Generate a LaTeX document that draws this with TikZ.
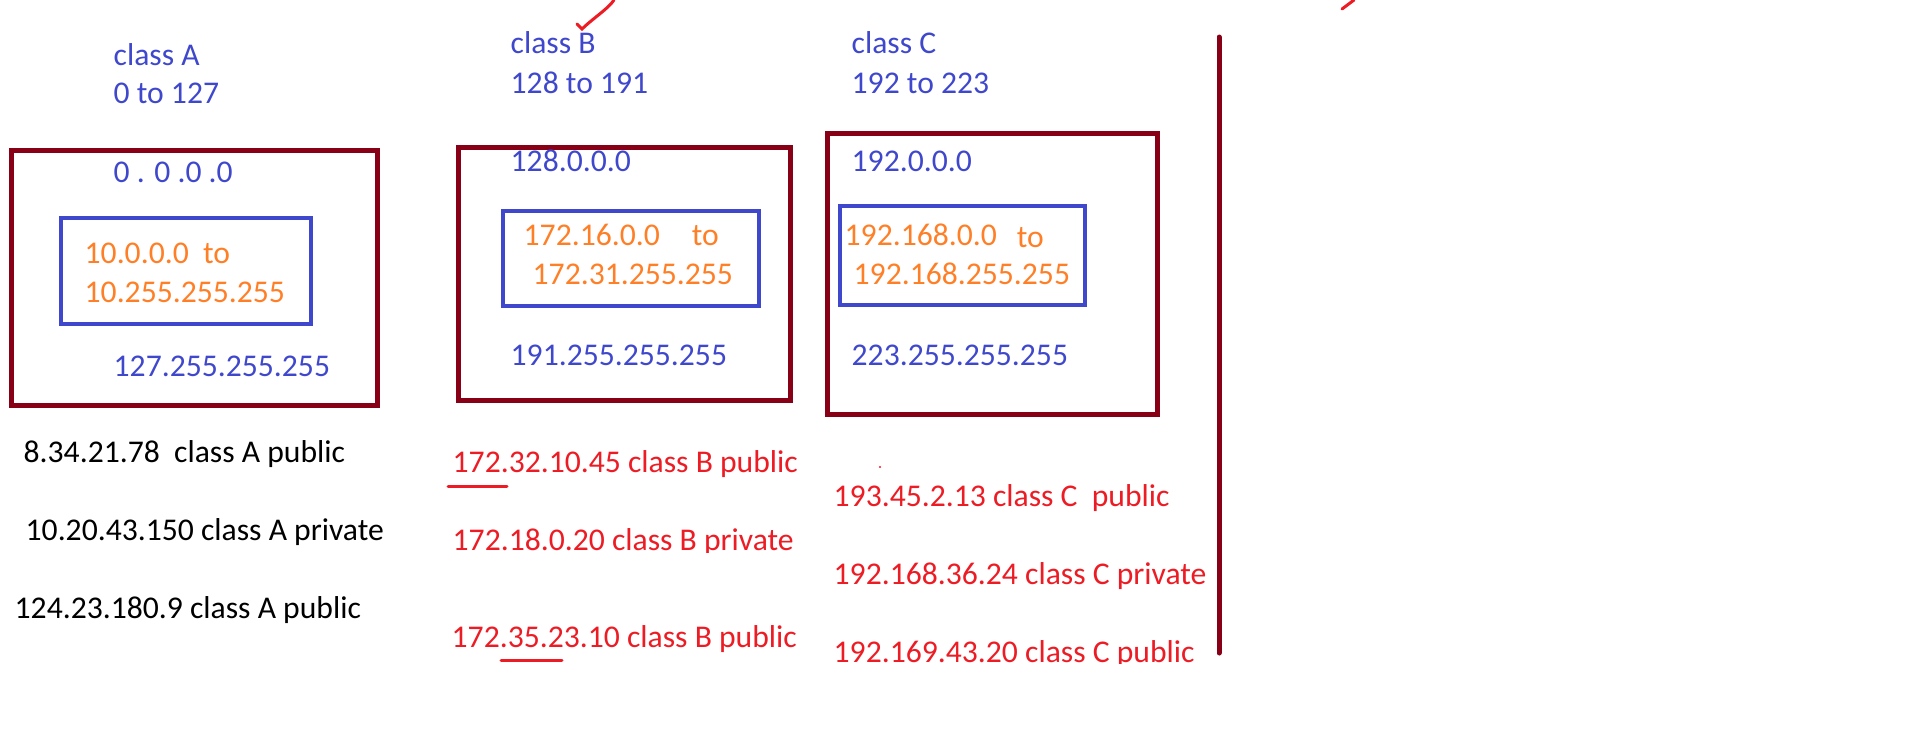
\documentclass[tikz,border=0pt]{standalone}
\usepackage{fontspec}
\setmainfont{Carlito}
\usetikzlibrary{positioning}
\definecolor{paintred}{RGB}{237,28,36}
\definecolor{paintmaroon}{RGB}{136,0,21}
\definecolor{paintblue}{RGB}{63,72,204}
\definecolor{paintorange}{RGB}{255,127,39}
\tikzset{
  txt/.style      = {anchor=base west, inner sep=0pt, font=\fontsize{9}{11}\selectfont},
  head/.style     = {txt, text=paintblue},
  rng/.style      = {txt, text=paintorange},
  note/.style     = {txt, text=black},
  rnote/.style    = {txt, text=paintred},
  classbox/.style = {draw=paintmaroon, line width=0.5mm},
  privbox/.style  = {draw=paintblue, line width=0.4mm},
  pen/.style      = {draw=paintred, line width=0.3mm, line cap=round},
  divider/.style  = {draw=paintmaroon, line width=0.5mm, line cap=round},
}
\begin{document}
\begin{tikzpicture}[x=0.1mm,y=-0.1mm]
  \useasboundingbox (0,0) rectangle (1914,734);
  % class A
  \draw[classbox] (11,150) rectangle (377,405);
  \draw[privbox] (61,218) rectangle (311,324);
  \node[head] (clsA) at (113,65) {class A};
  \node[head] (spanA) at (113,103) {0 to 127};
  \node[head] (loA) at (113,182) {0 . 0 .0 .0};
  \node[rng] (privloA) at (84,263) {10.0.0.0\ \ to};
  \node[rng] (privhiA) at (84,302) {10.255.255.255};
  \node[head] (hiA) at (113,376) {127.255.255.255};
  % class B
  \draw[classbox] (458,147) rectangle (790,400);
  \draw[privbox] (503,211) rectangle (759,306);
  \node[head] (clsB) at (510,53) {class B};
  \node[head] (spanB) at (510,93) {128 to 191};
  \node[head] (loB) at (510,171) {128.0.0.0};
  \node[rng] (privloB) at (523,245) {172.16.0.0\hspace{3.2mm}to};
  \node[rng] (privhiB) at (532,284) {172.31.255.255};
  \node[head] (hiB) at (510,365) {191.255.255.255};
  % class C
  \draw[classbox] (827,133) rectangle (1157,414);
  \draw[privbox] (840,206) rectangle (1085,305);
  \node[head] (clsC) at (851,53) {class C};
  \node[head] (spanC) at (851,93) {192 to 223};
  \node[head] (loC) at (851,171) {192.0.0.0};
  \node[rng] (privloC) at (844,245) {192.168.0.0\hspace{2mm}\raisebox{-0.2mm}{to}};
  \node[rng] (privhiC) at (853,284) {192.168.255.255};
  \node[head] (hiC) at (851,365) {223.255.255.255};
  % examples
  \node[note] (exA1) at (23,462) {8.34.21.78\ \ class A public};
  \node[note] (exA2) at (25,540) {10.20.43.150 class A private};
  \node[note] (exA3) at (14,618) {124.23.180.9 class A public};
  \node[rnote] (exB1) at (452,472) {172.32.10.45 class B public};
  \begin{scope}
    \clip (440,500) rectangle (820,552);
    \node[rnote] (exB2) at (452,550) {172.18.0.20 class B private};
  \end{scope}
  \node[rnote] (exB3) at (451,647) {172.35.23.10 class B public};
  \node[rnote] (exC1) at (833,506) {193.45.2.13 class C\ \ public};
  \node[rnote] (exC2) at (833,584) {192.168.36.24 class C private};
  \begin{scope}
    \clip (820,610) rectangle (1210,663);
    \node[rnote] (exC3) at (833,662) {192.169.43.20 class C public};
  \end{scope}
  % pen marks
  \draw[pen] (448,486) -- (507,486);
  \draw[pen] (501,660) -- (562,660);
  \draw[pen] (577,24) -- (582,29) .. controls (592,19) and (608,9) .. (614,0);
  \draw[pen] (1342,9) -- (1354,0);
  \fill[paintred] (880,467) circle[radius=0.12mm];
  \draw[divider] (1219,37) -- (1219,653);
\end{tikzpicture}
\end{document}
